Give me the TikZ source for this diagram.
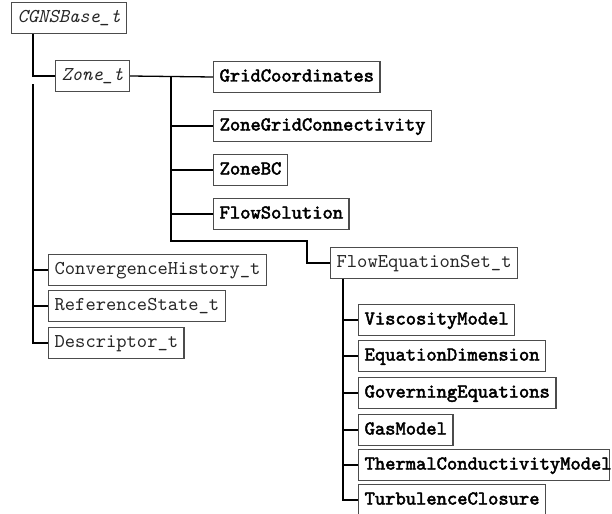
\documentclass[tikz,border=0pt]{standalone}
\usepackage{fontspec}
\setmonofont{Latin Modern Mono}[BoldFont={Latin Modern Mono}, BoldFeatures={FakeBold=2.5}]
\usepackage{tikz}
\usetikzlibrary{positioning}
\tikzset{
	tbox/.style={draw=black!70, line width=0.65pt, anchor=west, inner xsep=3pt,
		minimum height=14pt, text height=6.5pt, text depth=2pt,
		font=\fontsize{9.8}{11}\selectfont\ttfamily},
	tnode/.style={tbox, text=black!85},
	dnode/.style={tbox, text=black, font=\fontsize{9.8}{11}\selectfont\ttfamily\bfseries},
	wire/.style={line width=0.65pt}
}

\begin{document}
\begin{tikzpicture}[x=0.5pt,y=-0.5pt]
	\useasboundingbox (0,0) rectangle (612,514);
	% base and zone
	\node[tnode] (base) at (11,18) {\textit{CGNSBase\_t}};
	\node[tnode] (zone) at (55,76) {\textit{Zone\_t}};
	% zone children
	\node[dnode] (grid) at (213,77) {GridCoordinates};
	\node[dnode] (zgc) at (213,126) {ZoneGridConnectivity};
	\node[dnode] (zbc) at (213,170) {ZoneBC};
	\node[dnode] (flowsol) at (213,214) {FlowSolution};
	\node[tnode] (floweq) at (330,263) {FlowEquationSet\_t};
	% base children
	\node[tnode] (conv) at (48,270) {ConvergenceHistory\_t};
	\node[tnode] (ref) at (48,306) {ReferenceState\_t};
	\node[tnode] (desc) at (48,343) {Descriptor\_t};
	% flow equation set children
	\node[dnode] (visc) at (358,320) {ViscosityModel};
	\node[dnode] (eqdim) at (358,356) {EquationDimension};
	\node[dnode] (goveq) at (358,393) {GoverningEquations};
	\node[dnode] (gas) at (358,430) {GasModel};
	\node[dnode] (thcond) at (358,465) {\makebox[119.5pt][l]{ThermalConductivityModel}};
	\node[dnode] (turb) at (358,500) {TurbulenceClosure};

	\coordinate (btrunk) at (33,84);
	\coordinate (ztrunk) at (171,77);
	\draw[wire] ([xshift=11pt]base.south west) |- (zone.west);
	\draw[wire] (btrunk) |- (desc.west);
	\foreach \n in {conv,ref}
		\draw[wire] (btrunk |- \n.west) -- (\n.west);
	\draw[wire] (zone.east) -- (grid.west);
	\draw[wire] (ztrunk) |- (307,241) |- (floweq.west);
	\foreach \n in {zgc,zbc,flowsol}
		\draw[wire] (ztrunk |- \n.west) -- (\n.west);
	\draw[wire] ([xshift=6.5pt]floweq.south west) coordinate (ftrunk) |- (turb.west);
	\foreach \n in {visc,eqdim,goveq,gas,thcond}
		\draw[wire] (ftrunk |- \n.west) -- (\n.west);
\end{tikzpicture}
\end{document}
